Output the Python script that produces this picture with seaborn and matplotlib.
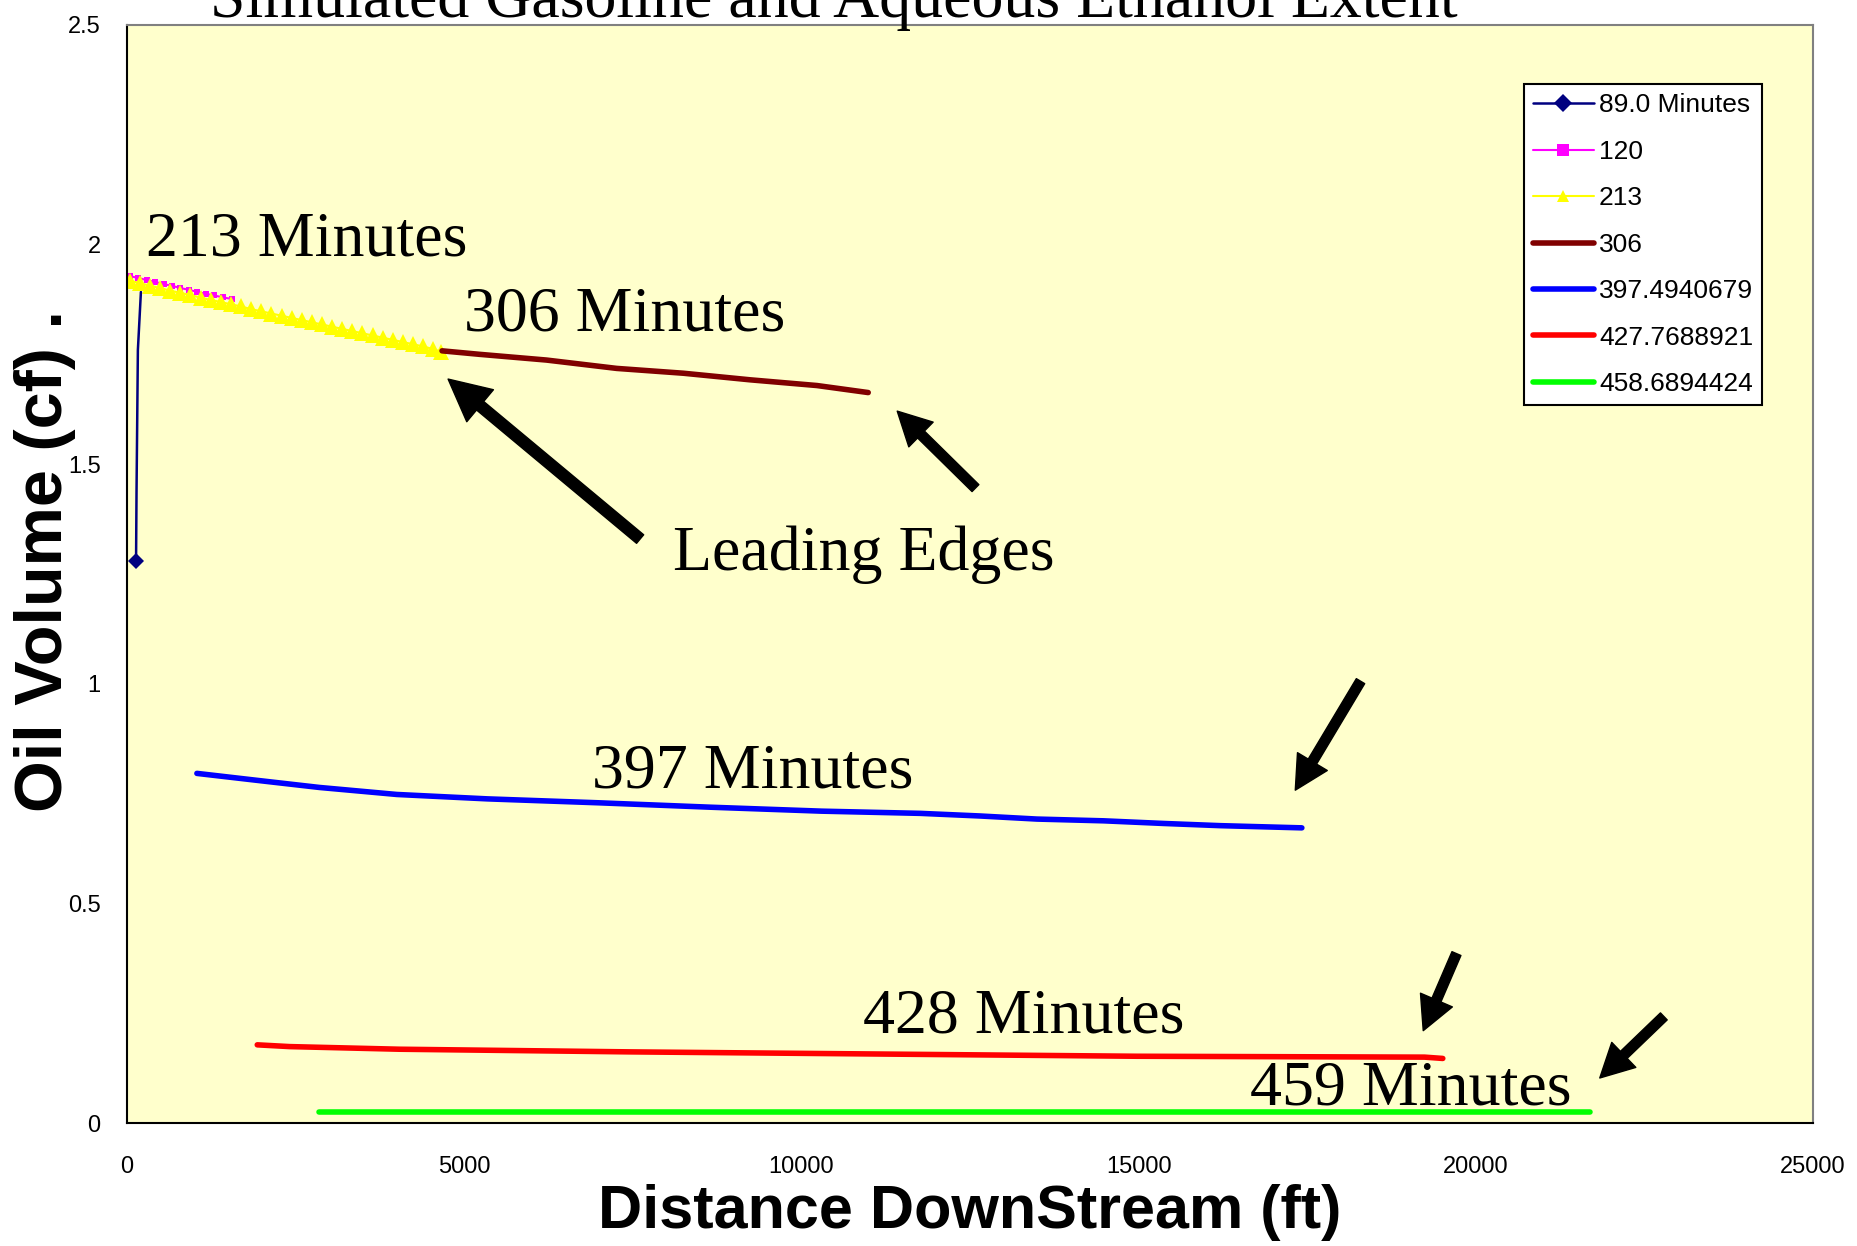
import matplotlib
matplotlib.use("Agg")
import matplotlib.pyplot as plt
import seaborn as sns

# series (distance ft, oil volume cf)
x_89 = [133, 140, 160, 205]
y_89 = [1.280, 1.437, 1.760, 1.892]

x_120 = [40, 165, 290, 415, 540, 665, 790, 915, 1040, 1165, 1290, 1415, 1550]
y_120 = [1.928, 1.924, 1.919, 1.915, 1.910, 1.906, 1.901, 1.897, 1.892, 1.888, 1.884, 1.880, 1.876]

x_213 = [40, 190, 340, 490, 640, 790, 940, 1090, 1240, 1390, 1540, 1690, 1840, 1990, 2140, 2290,
         2440, 2590, 2740, 2890, 3040, 3190, 3340, 3490, 3640, 3790, 3940, 4090, 4240, 4390, 4540, 4650]
y_213 = [1.918, 1.912, 1.906, 1.901, 1.895, 1.890, 1.885, 1.879, 1.874, 1.869, 1.864, 1.859, 1.853, 1.848, 1.843, 1.838,
         1.833, 1.828, 1.823, 1.818, 1.813, 1.808, 1.803, 1.798, 1.793, 1.788, 1.783, 1.778, 1.773, 1.768, 1.762, 1.756]

x_306 = [4670, 5230, 6220, 7260, 8250, 9240, 10230, 10990]
y_306 = [1.758, 1.750, 1.737, 1.718, 1.707, 1.692, 1.679, 1.663]

x_397 = [1035, 1880, 2850, 4000, 5340, 7000, 8650, 10300, 11760, 12650, 13490, 14480, 15370, 16210, 17420]
y_397 = [0.796, 0.781, 0.764, 0.748, 0.738, 0.729, 0.719, 0.710, 0.705, 0.699, 0.692, 0.688, 0.682, 0.677, 0.672]

x_428 = [1930, 2410, 4040, 7440, 11210, 14970, 19240, 19510]
y_428 = [0.178, 0.174, 0.168, 0.162, 0.157, 0.152, 0.150, 0.147]

x_459 = [2840, 12000, 21690]
y_459 = [0.024, 0.024, 0.024]

labels = ["89.0 Minutes", "120", "213", "306", "397.4940679", "427.7688921", "458.6894424"]

sns.set_style("white")
plt.rcParams['font.family'] = ['Liberation Sans', 'DejaVu Sans']
plt.rcParams['text.color'] = 'black'
plt.rcParams['axes.labelcolor'] = 'black'

fig = plt.figure(figsize=(18.58, 12.46), dpi=100)
ax = fig.add_axes([0.0684, 0.0987, 0.9074, 0.8813])
ax.set_facecolor('#FFFFCC')

sns.lineplot(x=x_89, y=y_89, ax=ax, color='#000080', lw=1.8, marker='D', markersize=8,
             markevery=[0], markeredgewidth=0, label=labels[0], sort=False, estimator=None)
sns.lineplot(x=x_120, y=y_120, ax=ax, color='#FF00FF', lw=1.5, marker='s', markersize=5,
             markeredgewidth=0, label=labels[1], sort=False, estimator=None)
sns.lineplot(x=x_213, y=y_213, ax=ax, color='#FFFF00', lw=1.5, marker='^', markersize=11,
             markeredgewidth=0, label=labels[2], sort=False, estimator=None)
sns.lineplot(x=x_306, y=y_306, ax=ax, color='#800000', lw=4, label=labels[3], sort=False, estimator=None)
sns.lineplot(x=x_397, y=y_397, ax=ax, color='#0000FF', lw=4, label=labels[4], sort=False, estimator=None)
sns.lineplot(x=x_428, y=y_428, ax=ax, color='#FF0000', lw=4, label=labels[5], sort=False, estimator=None)
sns.lineplot(x=x_459, y=y_459, ax=ax, color='#00FF00', lw=4, label=labels[6], sort=False, estimator=None)

ax.set_xlim(0, 25000)
ax.set_ylim(0, 2.5)
ax.set_xticks([0, 5000, 10000, 15000, 20000, 25000])
ax.set_yticks([0, 0.5, 1, 1.5, 2, 2.5])
ax.set_yticklabels(["0", "0.5", "1", "1.5", "2", "2.5"])
ax.tick_params(axis='both', direction='out', length=7, width=1.2, labelsize=17,
               colors='black', labelcolor='black')
ax.tick_params(axis='x', pad=17)
ax.tick_params(axis='y', pad=12)

for s in ['left', 'bottom']:
    ax.spines[s].set_color('black')
    ax.spines[s].set_linewidth(1.5)
for s in ['top', 'right']:
    ax.spines[s].set_color('#808080')
    ax.spines[s].set_linewidth(1.5)

ax.set_xlabel("Distance DownStream (ft)", fontsize=44, fontweight='bold', labelpad=4)
ax.set_ylabel("Oil Volume (cf) .", fontsize=48, fontweight='bold', va='center')
ax.yaxis.set_label_coords(-0.0486, 0.512)

leg = ax.legend(loc='upper right', bbox_to_anchor=(0.97, 0.946), borderaxespad=0, fontsize=19,
                frameon=True, fancybox=False, framealpha=1, edgecolor='black', facecolor='white',
                handlelength=2.3, handletextpad=0.2, labelspacing=0.85, borderpad=0.35)
leg.get_frame().set_linewidth(1.5)
for h in leg.legend_handles[:3]:
    h.set_markersize(9)

# title, partly cut by the top edge like in the original
fig.text(0.449, 0.9864, "Simulated Gasoline and Aqueous Ethanol Extent", ha='center', va='baseline',
         fontsize=46, family='Liberation Serif')

serif = dict(fontsize=46, family='Liberation Serif', transform=ax.transAxes, va='baseline', ha='left')
ax.text(0.0112, 0.7896, "213 Minutes", **serif)
ax.text(0.1996, 0.7217, "306 Minutes", **serif)
ax.text(0.324, 0.5038, "Leading Edges", **serif)
ax.text(0.2755, 0.3053, "397 Minutes", **serif)
ax.text(0.4364, 0.0820, "428 Minutes", **serif)
ax.text(0.6662, 0.0173, "459 Minutes", **serif)

big = dict(facecolor='black', edgecolor='black', width=8, headwidth=30, headlength=30, shrink=0)
small = dict(facecolor='black', edgecolor='black', width=7, headwidth=25, headlength=24, shrink=0)
arrows = [((0.1904, 0.6775), (0.3043, 0.5318), big),
          ((0.4568, 0.6483), (0.5032, 0.5782), small),
          ((0.6929, 0.3031), (0.7316, 0.4024), small),
          ((0.7688, 0.0841), (0.7885, 0.1543), small),
          ((0.8735, 0.0410), (0.9115, 0.0971), small)]
for tip, tail, props in arrows:
    ax.annotate("", xy=tip, xytext=tail, xycoords='axes fraction', textcoords='axes fraction',
                arrowprops=props)

fig.savefig("out.png", dpi=100)
